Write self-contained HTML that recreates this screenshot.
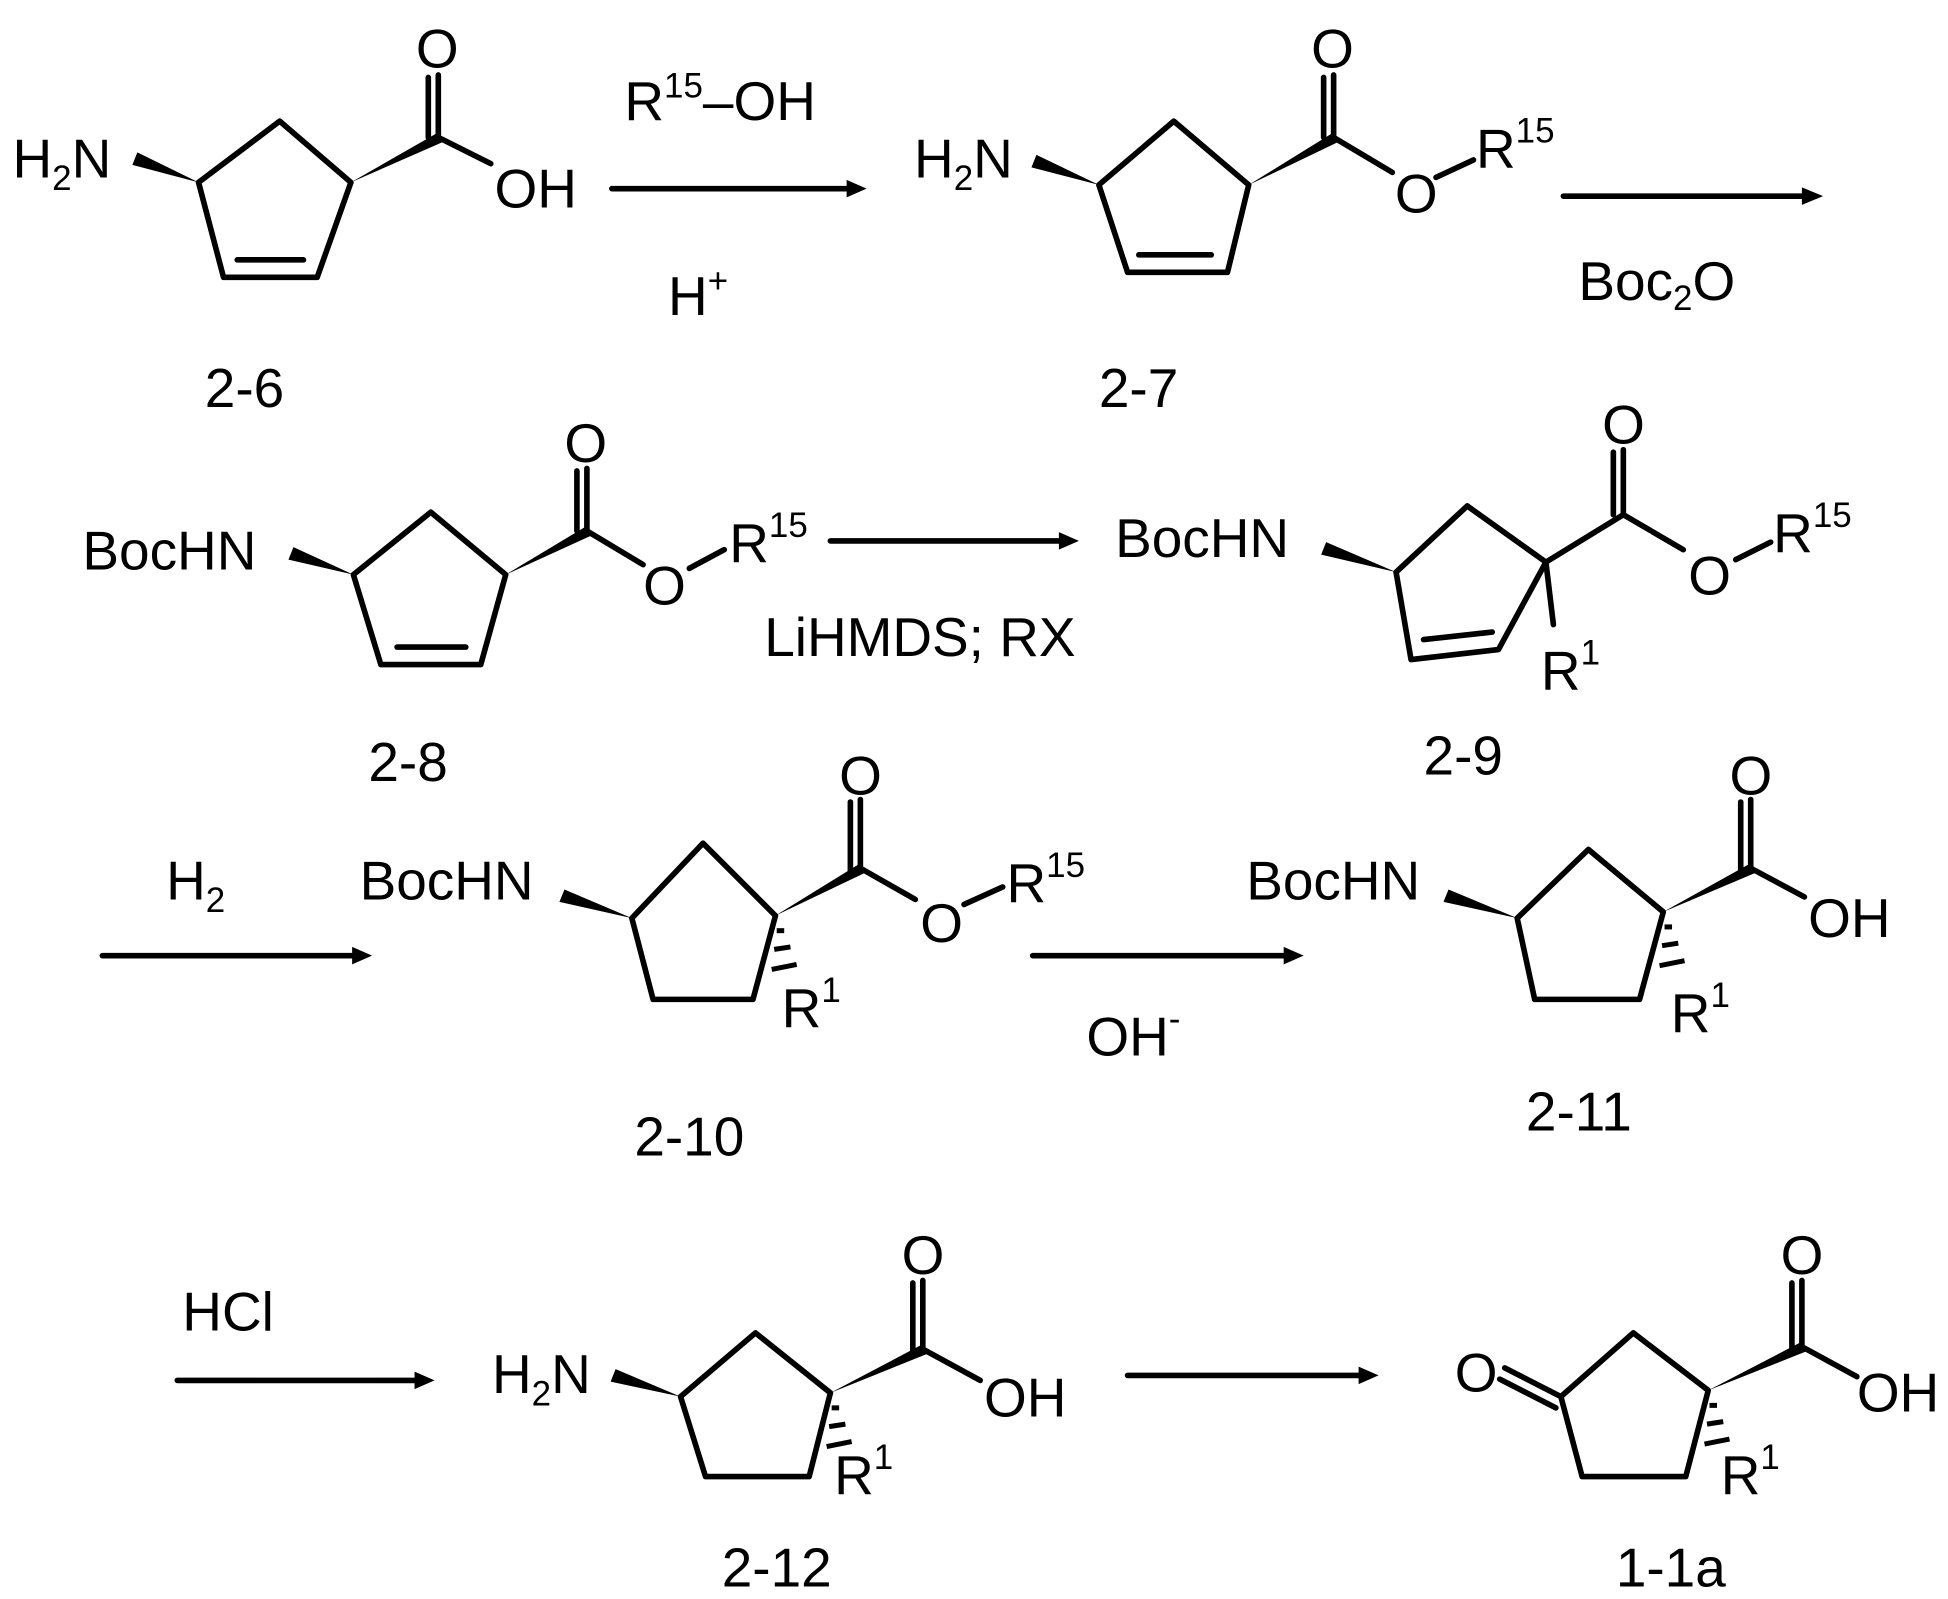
<!DOCTYPE html>
<html><head><meta charset="utf-8"><style>
html,body{margin:0;padding:0;background:#fff}
svg{display:block}
text{font-family:"Liberation Sans",sans-serif;font-size:44px;fill:#000}
.s{font-size:28px}
</style></head><body>
<svg width="1948" height="1599" viewBox="0 0 1560 1280" preserveAspectRatio="none" xmlns="http://www.w3.org/2000/svg">
<g stroke="#000" stroke-width="4.5" fill="none" stroke-linecap="round" stroke-linejoin="round">
<!-- 2-6 -->
<polyline points="159,146 224,97 281,146 254,222 179,222 159,146"/>
<line x1="190" y1="208" x2="243" y2="208"/>
<line x1="351" y1="110" x2="351" y2="60"/><line x1="343" y1="110" x2="343" y2="62"/>
<line x1="351" y1="110" x2="393" y2="131"/>
<line x1="490" y1="151" x2="680" y2="151"/>
<!-- 2-7 -->
<polyline points="880,148 940,97 1000,148 983,218 903,218 880,148"/>
<line x1="912" y1="204" x2="970" y2="204"/>
<line x1="1068" y1="110" x2="1068" y2="60"/><line x1="1060" y1="110" x2="1060" y2="62"/>
<line x1="1068" y1="110" x2="1115" y2="138"/>
<line x1="1150" y1="142" x2="1180" y2="128"/>
<line x1="1252" y1="157" x2="1445" y2="157"/>
<!-- 2-8 -->
<polyline points="283,460 345,410 405,460 385,532 305,532 283,460"/>
<line x1="318" y1="518" x2="373" y2="518"/>
<line x1="470" y1="425" x2="470" y2="375"/><line x1="462" y1="425" x2="462" y2="377"/>
<line x1="470" y1="425" x2="515" y2="452"/>
<line x1="552" y1="455" x2="580" y2="440"/>
<line x1="665" y1="433" x2="850" y2="433"/>
<!-- 2-9 -->
<polyline points="1118,458 1175,405 1238,450 1200,520 1130,528 1118,458"/>
<line x1="1140" y1="512" x2="1195" y2="506"/>
<line x1="1300" y1="412" x2="1300" y2="360"/><line x1="1292" y1="412" x2="1292" y2="362"/>
<line x1="1238" y1="450" x2="1300" y2="412"/>
<line x1="1300" y1="412" x2="1348" y2="440"/>
<line x1="1390" y1="448" x2="1418" y2="434"/>
<line x1="1238" y1="450" x2="1244" y2="500"/>
<line x1="82" y1="765" x2="285" y2="765"/>
<!-- 2-10 -->
<polyline points="506,735 563,675 621,733 603,800 523,800 506,735"/>
<line x1="689" y1="695" x2="689" y2="640"/><line x1="681" y1="697" x2="681" y2="642"/>
<line x1="689" y1="695" x2="733" y2="720"/>
<line x1="772" y1="724" x2="803" y2="710"/>
<line x1="827" y1="765" x2="1030" y2="765"/>
<!-- 2-11 -->
<polyline points="1215,735 1272,680 1332,730 1313,800 1229,800 1215,735"/>
<line x1="1402" y1="695" x2="1402" y2="640"/><line x1="1394" y1="697" x2="1394" y2="642"/>
<line x1="1402" y1="695" x2="1445" y2="718"/>
<line x1="142" y1="1105" x2="335" y2="1105"/>
<!-- 2-12 -->
<polyline points="545,1118 605,1067 665,1115 648,1182 565,1182 545,1118"/>
<line x1="739" y1="1080" x2="739" y2="1025"/><line x1="731" y1="1082" x2="731" y2="1027"/>
<line x1="739" y1="1080" x2="785" y2="1105"/>
<line x1="903" y1="1101" x2="1090" y2="1101"/>
<!-- 1-1a -->
<polyline points="1250,1118 1308,1067 1368,1113 1350,1182 1267,1182 1250,1118"/>
<line x1="1205" y1="1095" x2="1250" y2="1118"/><line x1="1201" y1="1104" x2="1246" y2="1127"/>
<line x1="1443" y1="1078" x2="1443" y2="1025"/><line x1="1435" y1="1080" x2="1435" y2="1027"/>
<line x1="1443" y1="1078" x2="1487" y2="1102"/>
</g>
<g fill="#000">
<polygon points="694,151 678,144 678,158"/>
<polygon points="1460,157 1443,150 1443,164"/>
<polygon points="864,433 848,426 848,440"/>
<polygon points="298,765 282,758 282,772"/>
<polygon points="1044,765 1028,758 1028,772"/>
<polygon points="348,1105 332,1098 332,1112"/>
<polygon points="1104,1101 1088,1094 1088,1108"/>
<polygon points="159,146 110,122 106,132"/>
<polygon points="281,146 351,106 354,114"/>
<polygon points="880,148 830,124 826,134"/>
<polygon points="1000,148 1068,106 1071,114"/>
<polygon points="283,460 235,438 231,448"/>
<polygon points="405,460 470,421 473,429"/>
<polygon points="1118,458 1062,434 1058,444"/>
<polygon points="506,735 452,712 448,722"/>
<polygon points="621,733 689,691 692,699"/>
<polygon points="1215,735 1160,712 1156,722"/>
<polygon points="1332,730 1402,691 1405,699"/>
<polygon points="545,1118 493,1096 489,1106"/>
<polygon points="665,1115 739,1076 742,1084"/>
<polygon points="1368,1113 1443,1074 1446,1082"/>
</g>
<g stroke="#000" stroke-width="4">
<line x1="622" y1="745" x2="628" y2="745"/><line x1="620" y1="760" x2="633" y2="758"/><line x1="618" y1="776" x2="638" y2="772"/>
<line x1="1333" y1="742" x2="1339" y2="742"/><line x1="1331" y1="757" x2="1344" y2="755"/><line x1="1329" y1="773" x2="1349" y2="769"/>
<line x1="666" y1="1127" x2="672" y2="1127"/><line x1="664" y1="1142" x2="677" y2="1140"/><line x1="662" y1="1158" x2="682" y2="1154"/>
<line x1="1369" y1="1125" x2="1375" y2="1125"/><line x1="1367" y1="1140" x2="1380" y2="1138"/><line x1="1365" y1="1156" x2="1385" y2="1152"/>
</g>
<text x="10" y="142">H<tspan class="s" dy="10">2</tspan><tspan dy="-10">N</tspan></text>
<text x="333" y="54">O</text>
<text x="396" y="166">OH</text>
<text x="500" y="96">R<tspan class="s" dy="-18">15</tspan><tspan dy="18">–OH</tspan></text>
<text x="535" y="252">H<tspan class="s" dy="-18">+</tspan></text>
<text x="164" y="326">2-6</text>

<text x="732" y="142">H<tspan class="s" dy="10">2</tspan><tspan dy="-10">N</tspan></text>
<text x="1050" y="54">O</text>
<text x="1117" y="170">O</text>
<text x="1182" y="134">R<tspan class="s" dy="-20">15</tspan></text>
<text x="1264" y="240">Boc<tspan class="s" dy="8">2</tspan><tspan dy="-8">O</tspan></text>
<text x="880" y="326">2-7</text>

<text x="66" y="456">BocHN</text>
<text x="452" y="370">O</text>
<text x="515" y="484">O</text>
<text x="584" y="450">R<tspan class="s" dy="-20">15</tspan></text>
<text x="612" y="525">LiHMDS; RX</text>
<text x="295" y="625">2-8</text>

<text x="893" y="446">BocHN</text>
<text x="1283" y="355">O</text>
<text x="1352" y="476">O</text>
<text x="1420" y="442">R<tspan class="s" dy="-20">15</tspan></text>
<text x="1234" y="552">R<tspan class="s" dy="-20">1</tspan></text>
<text x="1140" y="620">2-9</text>

<text x="133" y="720">H<tspan class="s" dy="10">2</tspan></text>
<text x="288" y="720">BocHN</text>
<text x="672" y="636">O</text>
<text x="737" y="754">O</text>
<text x="806" y="722">R<tspan class="s" dy="-20">15</tspan></text>
<text x="626" y="822">R<tspan class="s" dy="-20">1</tspan></text>
<text x="508" y="925">2-10</text>
<text x="870" y="845">OH<tspan class="s" dy="-20">-</tspan></text>

<text x="998" y="720">BocHN</text>
<text x="1385" y="636">O</text>
<text x="1448" y="750">OH</text>
<text x="1338" y="826">R<tspan class="s" dy="-20">1</tspan></text>
<text x="1222" y="905">2-11</text>

<text x="146" y="1065">HCl</text>
<text x="394" y="1115">H<tspan class="s" dy="10">2</tspan><tspan dy="-10">N</tspan></text>
<text x="722" y="1020">O</text>
<text x="788" y="1134">OH</text>
<text x="668" y="1196">R<tspan class="s" dy="-20">1</tspan></text>
<text x="578" y="1270">2-12</text>

<text x="1165" y="1114">O</text>
<text x="1426" y="1020">O</text>
<text x="1487" y="1130">OH</text>
<text x="1378" y="1196">R<tspan class="s" dy="-20">1</tspan></text>
<text x="1294" y="1270">1-1a</text>
</svg>
</body></html>
